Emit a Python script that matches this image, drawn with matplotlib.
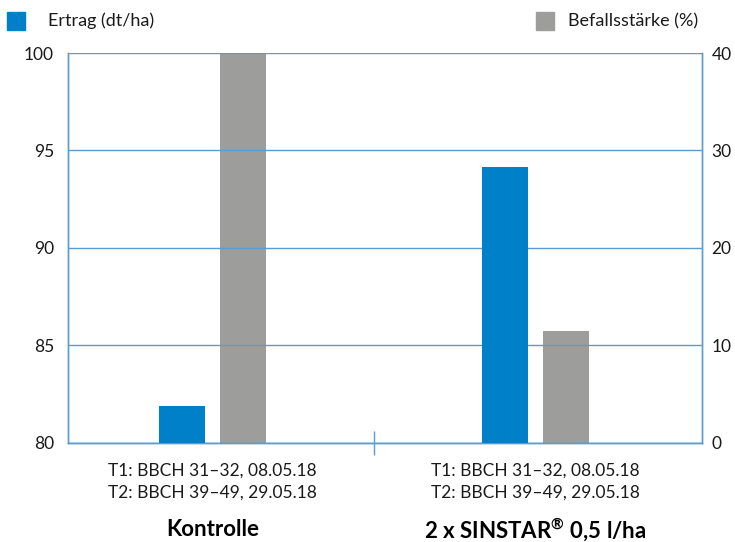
import matplotlib.pyplot as plt
import numpy as np
from matplotlib.patches import Rectangle
from matplotlib.transforms import blended_transform_factory

plt.rcParams["font.family"] = ["Lato", "DejaVu Sans"]
plt.rcParams["mathtext.fontset"] = "custom"
plt.rcParams["mathtext.rm"] = "Lato"
plt.rcParams["mathtext.bf"] = "Lato:bold"

# data
gruppen = ["Kontrolle", r"2 x SINSTAR$^{\mathbf{®}}$ 0,5 l/ha"]
termine = "T1: BBCH 31\u201332, 08.05.18\nT2: BBCH 39\u201349, 29.05.18"
ertrag = [81.9, 94.15]        # dt/ha, linke Achse
befall = [40.0, 11.5]         # %, rechte Achse
links_ticks = [80, 85, 90, 95, 100]
rechts_ticks = [0, 10, 20, 30, 40]

blau = "#0080c8"
grau = "#9d9d9c"
linie = "#5a9bd0"
textfarbe = "#1a1a1a"

fig = plt.figure(figsize=(7.35, 5.42), dpi=100)
ax = fig.add_axes([0.0925, 0.1827, 0.8625, 0.7195])
ax2 = ax.twinx()

x = np.arange(len(gruppen))
breite = 0.1424
versatz = 0.0944

ax.set_zorder(ax2.get_zorder() + 1)
ax.patch.set_visible(False)

ax.bar(x - versatz, ertrag, width=breite, color=blau, zorder=3)
ax2.bar(x + versatz, befall, width=breite, color=grau, zorder=3)

ax.set_ylim(80, 100)
ax2.set_ylim(0, 40)
ax.set_xlim(-0.447, 1.515)

ax.set_yticks(links_ticks)
ax2.set_yticks(rechts_ticks)
ax.yaxis.grid(True, color=linie, linewidth=1.0, zorder=0)
ax.set_axisbelow(True)

for a in (ax, ax2):
    for s in a.spines.values():
        s.set_color(linie)
        s.set_linewidth(1.0)
    a.spines["top"].set_visible(False)
    a.tick_params(axis="y", length=0, labelsize=12.5, labelcolor=textfarbe)
ax.tick_params(axis="y", pad=10)
ax2.tick_params(axis="y", pad=7)

# mittlerer Trennstrich
ax.set_xticks([0.5])
ax.set_xticklabels([""])
ax.tick_params(axis="x", direction="inout", length=17, color=linie, width=1.0)

trans = blended_transform_factory(ax.transData, fig.transFigure)
for i, name in enumerate(gruppen):
    ax.text(x[i], 1 - 481.5 / 542, termine, transform=trans, ha="center", va="center",
            fontsize=12.5, color=textfarbe, linespacing=1.5)
    ax.text(x[i], 1 - 530 / 542, name, transform=trans, ha="center", va="center",
            fontsize=16, fontweight="bold", color="black")

# Legende
fig.add_artist(Rectangle((7 / 735, 1 - 30 / 542), 18 / 735, 18 / 542,
                         transform=fig.transFigure, color=blau))
fig.text(48 / 735, 1 - 21 / 542, "Ertrag (dt/ha)", ha="left", va="center",
         fontsize=13, color=textfarbe)
fig.add_artist(Rectangle((536 / 735, 1 - 30 / 542), 18 / 735, 18 / 542,
                         transform=fig.transFigure, color=grau))
fig.text(568 / 735, 1 - 21 / 542, "Befallsstärke (%)", ha="left", va="center",
         fontsize=13, color=textfarbe)

fig.savefig("out.png", dpi=100)
